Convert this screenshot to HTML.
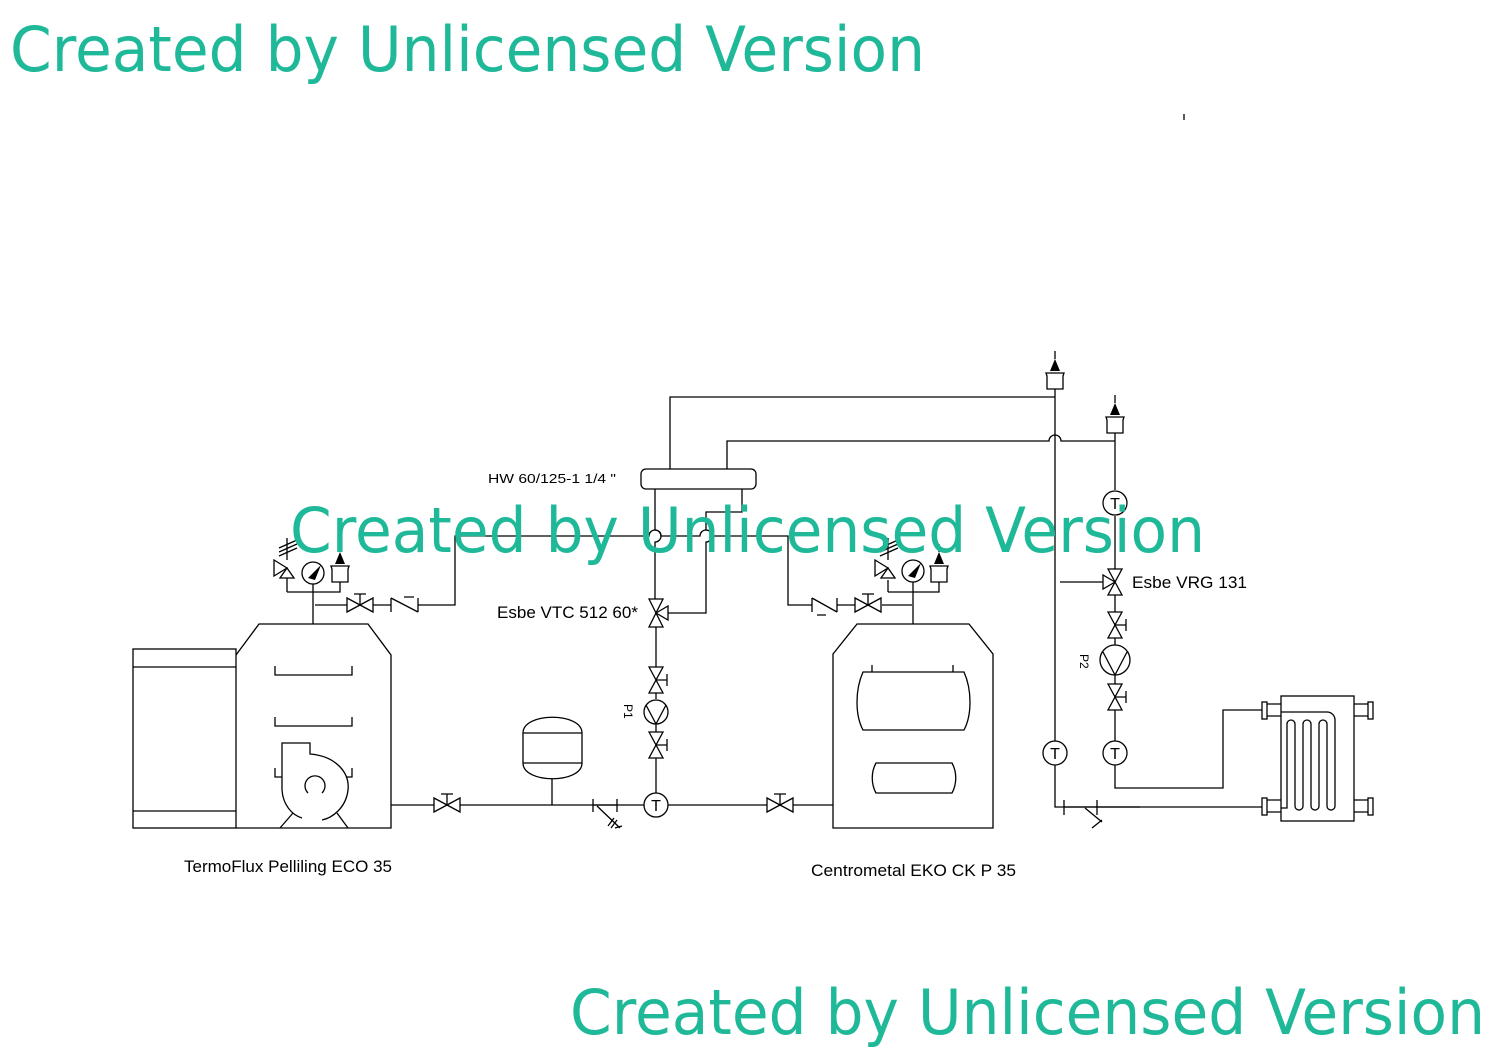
<!DOCTYPE html>
<html><head><meta charset="utf-8"><style>
html,body{margin:0;padding:0;background:#fff;}
svg{display:block;}
.l{stroke:#000;stroke-width:1.3;fill:none;}
.w{fill:#fff;stroke:#000;stroke-width:1.3;}
.t{font-family:"Liberation Sans",sans-serif;fill:#000;}
.wm{font-family:"DejaVu Sans","Liberation Sans",sans-serif;fill:#1fb999;font-size:62px;}
</style></head><body>
<svg width="1497" height="1058" viewBox="0 0 1497 1058" xmlns="http://www.w3.org/2000/svg">
<defs>
<g id="valve"><path class="w" d="M-13,-7 L13,7 L13,-7 L-13,7 Z"/><path class="l" d="M0,0 V-11 M-6,-11 H6"/></g>
<g id="vvalve"><path class="w" d="M-7,-13 L7,13 L-7,13 L7,-13 Z"/><path class="l" d="M0,0 H11 M11,-6 V6"/></g>
<g id="tc"><circle class="w" r="12"/><text class="t" x="0" y="6" font-size="16" text-anchor="middle">T</text></g>
<g id="vent"><path class="w" d="M-9,-8 H9 L8,-5 V8 H-8 V-5 L-9,-8Z"/><path d="M-5,-10 L0,-22 L5,-10Z" fill="#000"/><path class="l" d="M0,-22 V-30"/></g>
<g id="safety"><path class="w" d="M0,0 L-13,-8 L-13,8 Z"/><path class="w" d="M0,0 L-7,10 L7,10 Z"/><path class="l" d="M-8,-12 L10,-20 M-8,-16 L10,-24 M-8,-20 L10,-28 M0,-8 V-30"/></g>
<g id="gauge"><circle class="w" r="11"/><path d="M-5,5 L8,-8 L2,7Z" fill="#000"/></g>
</defs>

<rect class="l" x="133" y="649" width="103" height="179"/>
<path class="l" d="M133,667 H236 M133,811 H236"/>
<path class="l" d="M236,655 L259,624 H368 L391,655 V828 H236"/>
<path class="l" d="M275,666 V675 H352 V666 M275,717 V726 H352 V717 M275,768 V777 H282 M352,768 V777 H347"/>
<path class="l" d="M282,790 V743 H310 V754 C335,756 350,772 348,790 C346,808 332,818 322,820 M282,790 C283,805 292,815 302,818"/>
<path class="l" d="M308,793 A10,10 0 1 1 322,793"/>
<path class="l" d="M280,828 L293,813 M348,828 L337,813"/>
<path class="l" d="M313,624 V578 M287,592 H340 V582 M287,592 V578"/>
<use href="#safety" x="287" y="568"/>
<use href="#gauge" x="313" y="573"/>
<use href="#vent" x="340" y="574"/>
<path class="l" d="M315,605 H347 M373,605 H391 M418,605 H455 V536 H649 A6,6 0 0 1 661,536 H700 A6,6 0 0 1 712,536 H788 V605 H812 M837,605 H855 M882,605 H912"/>
<use href="#valve" x="360" y="605"/>
<path class="w" d="M391,598 V612 M391,598 L418,612 M418,598 V612 M404,597 H414"/>
<path class="l" d="M391,805 H434 M460,805 H644 M668,805 H767 M793,805 H833"/>
<use href="#valve" x="447" y="805"/>
<path class="l" d="M552,777 V805"/>
<path class="w" d="M523,733 C523,712 582,712 582,733 V763 C582,784 523,784 523,763 Z"/>
<path class="l" d="M523,733 H582 M523,763 H582"/>
<path class="l" d="M593,799 V812 M593,805 H617 M617,799 V812 M597,806 L620,828 M608,826 L614,818 M611,828 L617,820 M615,828 L622,826"/>
<use href="#tc" x="656" y="805"/>
<use href="#valve" x="780" y="805"/>
<path class="l" d="M833,654 L857,624 H969 L993,654 V828 H833 Z"/>
<path class="w" d="M863,672 H964 C972,690 972,715 964,730 H863 C855,715 855,690 863,672 Z"/>
<path class="l" d="M872,665 V672 M953,665 V672"/>
<path class="w" d="M876,763 H952 C957,772 957,784 952,793 H876 C871,784 871,772 876,763 Z"/>
<path class="l" d="M913,624 V578 M888,592 H939 V582 M888,592 V580"/>
<use href="#safety" x="888" y="568"/>
<use href="#gauge" x="913" y="571"/>
<use href="#vent" x="939" y="574"/>
<use href="#valve" x="868" y="605"/>
<path class="w" d="M812,598 V612 M812,598 L837,612 M837,598 V612 M817,615 H826"/>
<path class="l" d="M670,469 V397 H1055 M727,469 V441 H1049 A6,6 0 0 1 1061,441 H1115"/>
<rect class="w" x="641" y="469" width="115" height="20" rx="5"/>
<path class="l" d="M655,489 V530 A6,6 0 0 1 655,542 V599 M742,489 V512 H706 V530 A6,6 0 0 1 706,542 V613 H668 M656,627 V667 M656,693 V699 M656,724 V732 M656,758 V793"/>
<path class="w" d="M649,599 L663,627 L649,627 L663,599 Z"/>
<path class="w" d="M656,613 L668,606 L668,620 Z"/>
<use href="#vvalve" x="656" y="680"/>
<circle class="w" cx="656" cy="712" r="12"/>
<path class="l" d="M646,705 L656,724 L666,705"/>
<use href="#vvalve" x="656" y="745"/>
<text class="t" x="0" y="0" font-size="12" transform="translate(624,704) rotate(90)">P1</text>
<path class="l" d="M1055,389 V741 M1055,765 V807 H1262 M1115,433 V490 M1115,516 V569 M1115,595 V612 M1115,638 V645 M1115,675 V684 M1115,710 V741 M1115,765 V788 H1223 V710 H1262 M1060,582 H1103"/>
<path class="l" d="M1064,807 H1140" stroke-width="2.5"/>
<path class="l" d="M1064,800 V815 M1097,800 V815 M1085,808 L1102,822 M1092,828 L1102,820"/>
<use href="#vent" x="1055" y="381"/>
<use href="#vent" x="1115" y="425"/>
<use href="#tc" x="1115" y="503"/>
<path class="w" d="M1108,569 L1122,595 L1108,595 L1122,569 Z"/>
<path class="w" d="M1115,582 L1103,575 L1103,589 Z"/>
<use href="#vvalve" x="1115" y="625"/>
<circle class="w" cx="1115" cy="660" r="15"/>
<path class="l" d="M1103,652 L1115,675 L1127,652"/>
<use href="#vvalve" x="1115" y="697"/>
<use href="#tc" x="1115" y="753"/>
<use href="#tc" x="1055" y="753"/>
<text class="t" x="0" y="0" font-size="12" transform="translate(1080,654) rotate(90)">P2</text>
<rect class="l" x="1281" y="696" width="73" height="125"/>
<path class="l" d="M1267,704 H1281 M1267,716 H1281 M1267,800 H1281 M1267,812 H1281 M1354,704 H1368 M1354,716 H1368 M1354,800 H1368 M1354,812 H1368"/>
<rect class="w" x="1262" y="702" width="5" height="17"/><rect class="w" x="1262" y="798" width="5" height="17"/>
<rect class="w" x="1368" y="702" width="5" height="17"/><rect class="w" x="1368" y="798" width="5" height="17"/>
<path class="l" d="M1281,808 H1287 V724 A4,4 0 0 1 1295,724 V806 A4,4 0 0 0 1303,806 V724 A4,4 0 0 1 1311,724 V806 A4,4 0 0 0 1319,806 V724 A4,4 0 0 1 1327,724 V806 A4,4 0 0 0 1335,806 V720 A8,8 0 0 0 1327,712 H1281"/>
<text class="t" x="488" y="483" font-size="13" textLength="128" lengthAdjust="spacingAndGlyphs">HW 60/125-1 1/4 "</text>
<text class="t" x="497" y="618" font-size="17" textLength="141" lengthAdjust="spacingAndGlyphs">Esbe VTC 512 60*</text>
<text class="t" x="1132" y="588" font-size="17" textLength="115" lengthAdjust="spacingAndGlyphs">Esbe VRG 131</text>
<text class="t" x="184" y="872" font-size="17" textLength="208" lengthAdjust="spacingAndGlyphs">TermoFlux Pelliling ECO 35</text>
<text class="t" x="811" y="876" font-size="17" textLength="205" lengthAdjust="spacingAndGlyphs">Centrometal EKO CK P 35</text>
<path class="l" d="M1184,114 V120"/>
<text class="wm" x="10" y="71" textLength="915" lengthAdjust="spacingAndGlyphs">Created by Unlicensed Version</text>
<text class="wm" x="290" y="552" textLength="915" lengthAdjust="spacingAndGlyphs">Created by Unlicensed Version</text>
<text class="wm" x="570" y="1034" textLength="915" lengthAdjust="spacingAndGlyphs">Created by Unlicensed Version</text>
</svg>
</body></html>
